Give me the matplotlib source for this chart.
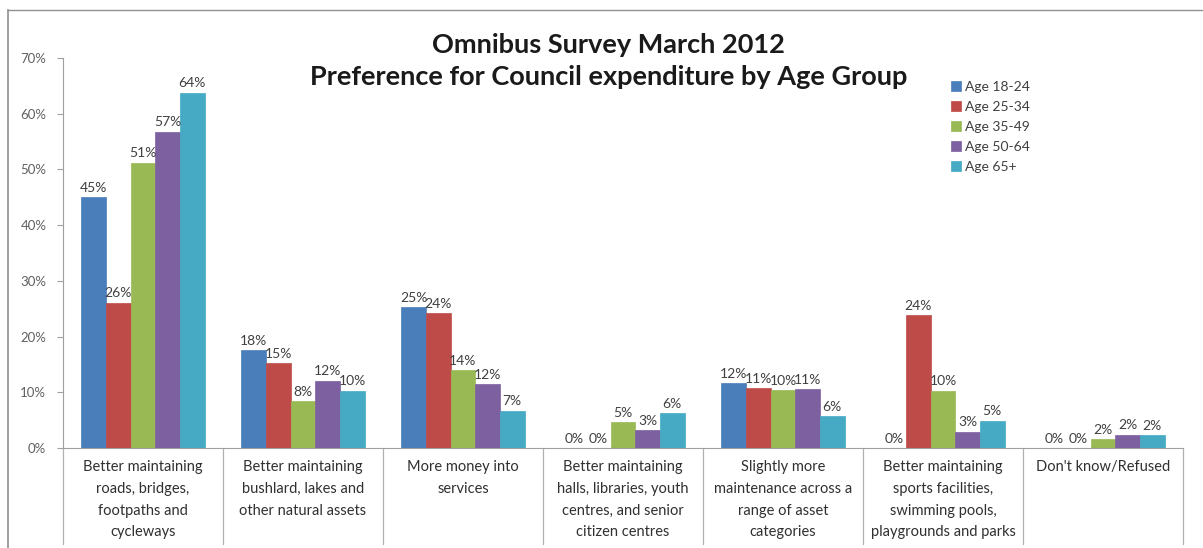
import matplotlib
matplotlib.use("Agg")
import matplotlib.pyplot as plt
from matplotlib.lines import Line2D
import numpy as np

plt.rcParams['font.family'] = ['Lato', 'DejaVu Sans']

categories = [
    "Better maintaining\nroads, bridges,\nfootpaths and\ncycleways",
    "Better maintaining\nbushlard, lakes and\nother natural assets",
    "More money into\nservices",
    "Better maintaining\nhalls, libraries, youth\ncentres, and senior\ncitizen centres",
    "Slightly more\nmaintenance across a\nrange of asset\ncategories",
    "Better maintaining\nsports facilities,\nswimming pools,\nplaygrounds and parks",
    "Don't know/Refused",
]
series_names = ["Age 18-24", "Age 25-34", "Age 35-49", "Age 50-64", "Age 65+"]
age_18_24 = [45.0, 17.6, 25.3, 0.0, 11.6, 0.0, 0.0]
age_25_34 = [26.1, 15.2, 24.2, 0.0, 10.7, 23.9, 0.0]
age_35_49 = [51.2, 8.4, 14.0, 4.6, 10.4, 10.3, 1.6]
age_50_64 = [56.8, 12.1, 11.5, 3.2, 10.6, 2.9, 2.4]
age_65_plus = [63.8, 10.3, 6.7, 6.3, 5.7, 4.9, 2.3]
y_ticks = [0, 10, 20, 30, 40, 50, 60, 70]

colors = ["#4A7EBB", "#BE4B48", "#98B954", "#7D60A0", "#46AAC5"]
series = [age_18_24, age_25_34, age_35_49, age_50_64, age_65_plus]

fig = plt.figure(figsize=(12.03, 5.48), dpi=100)
ax = fig.add_axes([63 / 1203, 1 - 448 / 548, 1120 / 1203, 390 / 548])

n = len(categories)
x = np.arange(n)
bw = 0.154
for i, (vals, col, name) in enumerate(zip(series, colors, series_names)):
    pos = x + (i - 2) * bw
    ax.bar(pos, vals, width=bw, color=col, edgecolor=col, linewidth=0.5, label=name)
    for p, v in zip(pos, vals):
        ax.text(p, v + 0.6, f"{round(v):d}%", ha="center", va="bottom",
                fontsize=10, color="#404040")

ax.set_xlim(-0.5, n - 0.5)
ax.set_ylim(0, 70)
ax.set_yticks(y_ticks)
ax.set_yticklabels([f"{t}%" for t in y_ticks], fontsize=9.5, color="#606060")
ax.tick_params(axis="y", length=4, color="#A0A0A0", pad=8)
ax.set_xticks([])

for side in ["top", "right"]:
    ax.spines[side].set_visible(False)
ax.spines["left"].set_color("#A0A0A0")
ax.spines["bottom"].set_color("#A0A0A0")

# category separators reaching down through the label area
for b in np.arange(-0.5, n, 1.0):
    ax.add_line(Line2D([b, b], [0, -0.245], transform=ax.get_xaxis_transform(),
                       color="#B0B0B0", linewidth=0.9, clip_on=False))

for xi, lab in zip(x, categories):
    ax.text(xi, -0.03, lab, transform=ax.get_xaxis_transform(), ha="center",
            va="top", fontsize=10.5, color="#303030", linespacing=1.72)

fig.text(0.506, 1 - 33 / 548,
         "Omnibus Survey March 2012\nPreference for Council expenditure by Age Group",
         ha="center", va="top", fontsize=19.5, fontweight="bold", color="#1a1a1a",
         linespacing=1.42)

leg = ax.legend(loc="upper left", bbox_to_anchor=(944 / 1203, 1 - 74 / 548),
                bbox_transform=fig.transFigure, frameon=False, fontsize=10,
                handlelength=0.7, handleheight=0.7, handletextpad=0.3,
                labelspacing=0.58, borderpad=0)
for t in leg.get_texts():
    t.set_color("#404040")

# outer chart frame
fig.add_artist(Line2D([8 / 1203, 8 / 1203], [0, 1 - 10 / 548], transform=fig.transFigure,
                      color="#909090", linewidth=1.2))
fig.add_artist(Line2D([8 / 1203, 1], [1 - 10 / 548, 1 - 10 / 548], transform=fig.transFigure,
                      color="#909090", linewidth=1.0))

fig.savefig("out.png", dpi=100)
